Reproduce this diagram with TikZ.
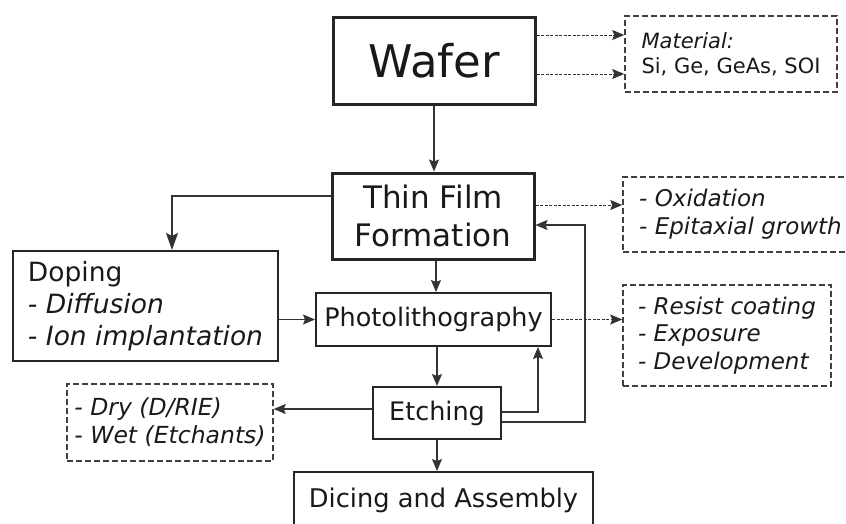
\documentclass[tikz,border=0pt]{standalone}
\usepackage{fontspec}
\setmainfont{DejaVu Sans}
\usetikzlibrary{arrows.meta, positioning}

\begin{document}
\begin{tikzpicture}[
    x=1pt, y=-1pt,
    ->, >={Stealth[length=12pt, width=10pt, inset=2pt]}, line width=1.2pt, black!80,
    every node/.style={text=black!90, align=left, inner sep=0pt},
    stage/.style={draw=black!85, line width=2pt, font=\fontsize{25.5}{32}\selectfont},
    major/.style={stage, line width=3pt},
    note/.style={draw=black!75, line width=1.5pt, dash pattern=on 6pt off 3pt, font=\fontsize{23}{27.5}\selectfont},
    aside/.style={line width=1pt, dash pattern=on 3pt off 1.5pt},
    bighead/.style={-{Stealth[length=17pt, width=12pt, inset=3pt]}}
]

    \path[use as bounding box] (0,0) rectangle (846,523);
    \clip (0,0) rectangle (846,523);

    \node[major, minimum width=202pt, minimum height=87pt, font=\fontsize{45}{50}\selectfont] (Wf) at (434,60.5) {Wafer};
    \node[note, minimum width=212pt, minimum height=76pt, font=\fontsize{21}{25}\selectfont] (Mt) at (731,54) {\textit{Material:}\\Si, Ge, GeAs, SOI};
    \node[major, minimum width=202pt, minimum height=86pt, font=\fontsize{31}{38}\selectfont, align=center] (TF) at (433,216) {Thin Film\\Formation};
    \node[note, minimum width=235pt, minimum height=75pt, font=\fontsize{23}{28}\selectfont] (Ox) at (740.5,214.5) {\textit{- Oxidation}\\\textit{- Epitaxial growth}};
    \node[stage, minimum width=265pt, minimum height=110pt, font=\fontsize{26.5}{32}\selectfont] (Dp) at (145.5,306) {Doping\\\textit{- Diffusion}\\\textit{- Ion implantation}};
    \node[stage, minimum width=235pt, minimum height=53pt] (Ph) at (433.5,319.5) {Photolithography};
    \node[note, minimum width=208pt, minimum height=101pt] (Rs) at (727,335.5) {\textit{- Resist coating}\\\textit{- Exposure}\\\textit{- Development}};
    \node[stage, minimum width=128pt, minimum height=52pt] (Et) at (437,413) {Etching};
    \node[note, minimum width=206pt, minimum height=77pt, font=\fontsize{23.5}{28}\selectfont] (Dr) at (170,422.5) {\textit{- Dry (D/RIE)}\\\textit{- Wet (Etchants)}};
    \node[stage, minimum width=299pt, minimum height=57pt, font=\fontsize{25.7}{30}\selectfont] (Da) at (443.5,500.5) {Dicing and Assembly};

    \draw (Wf.south) -- (Wf.south |- TF.north);
    \draw[aside] ([yshift=25.5pt]Wf.east) -- ([yshift=25.5pt]Wf.east -| Mt.west);
    \draw[aside] ([yshift=-13.5pt]Wf.east) -- ([yshift=-13.5pt]Wf.east -| Mt.west);
    \draw[aside] ([yshift=11pt]TF.east) -- ([yshift=11pt]TF.east -| Ox.west);
    \draw[bighead] ([yshift=20pt]TF.west) -| ([xshift=26.5pt]Dp.north);
    \draw ([xshift=3pt]TF.south) -- ([xshift=3pt]TF.south |- Ph.north);
    \draw (Ph.west -| Dp.east) -- (Ph.west);
    \draw[aside] (Ph.east) -- (Ph.east -| Rs.west);
    \draw (Ph.south -| Et.north) -- (Et.north);
    \draw ([yshift=4pt]Et.west) -- ([yshift=4pt]Et.west -| Dr.east);
    \draw (Et.south) -- (Et.south |- Da.north);
    \draw ([yshift=1pt]Et.east) -| ([xshift=104.5pt]Ph.south);
    \draw ([yshift=-9pt]Et.east) -- ++(83,0) |- ([yshift=-9pt]TF.east);

\end{tikzpicture}
\end{document}
